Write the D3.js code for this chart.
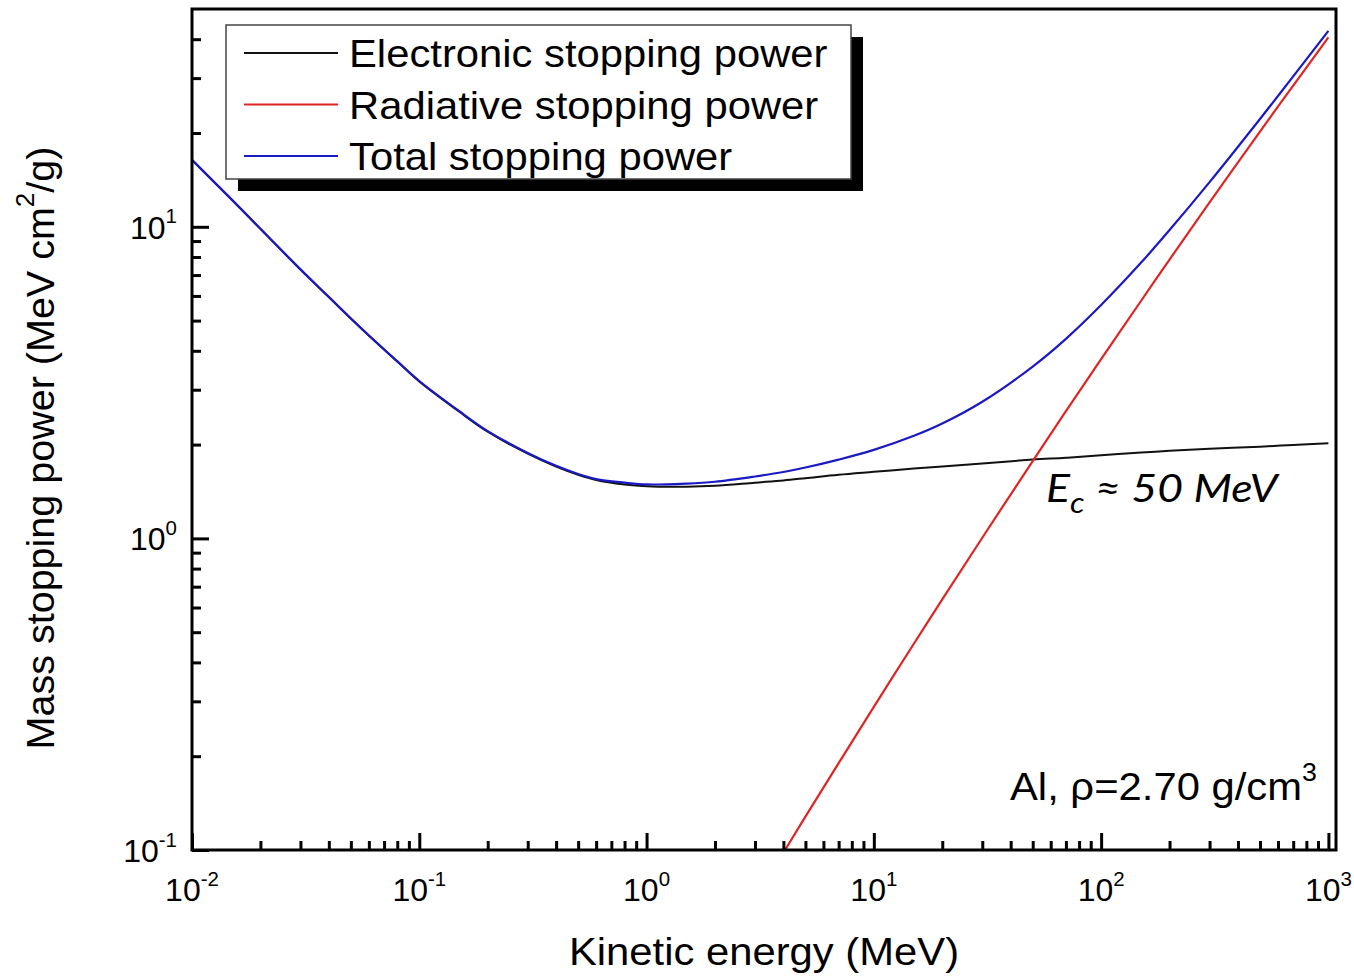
<!DOCTYPE html>
<html>
<head>
<meta charset="utf-8">
<script src="https://cdn.jsdelivr.net/npm/d3@7"></script>
<style>
  body { margin: 0; background: #fff; }
  svg { display: block; }
</style>
</head>
<body>
<svg id="chart" width="1354" height="977"></svg>
<script>
// Electron stopping power in aluminium (MeV cm^2/g) versus kinetic energy (MeV)
const energy = [0.01, 0.015, 0.02, 0.03, 0.04, 0.05, 0.06, 0.08, 0.1, 0.15, 0.2, 0.3, 0.4, 0.5, 0.6, 0.8,
                1, 1.5, 2, 3, 4, 5, 7, 10, 15, 20, 30, 50, 70, 100, 150, 200, 300, 500, 700, 1000];
const electronic = [16.4, 12.2, 9.85, 7.30, 5.95, 5.08, 4.48, 3.70, 3.19, 2.55, 2.20, 1.87, 1.70, 1.60, 1.54, 1.49,
                    1.47, 1.465, 1.475, 1.51, 1.535, 1.56, 1.60, 1.635, 1.675, 1.70, 1.74, 1.79, 1.815, 1.85, 1.885, 1.91, 1.94, 1.97, 1.995, 2.02];
const radiative = [0.0036, 0.0038, 0.0040, 0.0042, 0.0044, 0.0045, 0.0046, 0.0049, 0.0052, 0.0058, 0.0064, 0.0078, 0.0092, 0.011, 0.0125, 0.016,
                   0.020, 0.031, 0.043, 0.070, 0.098, 0.128, 0.190, 0.288, 0.459, 0.637, 1.005, 1.77, 2.56, 3.76, 5.79, 7.85, 11.97, 20.21, 28.39, 40.52];
const total = [16.40, 12.20, 9.85, 7.30, 5.95, 5.08, 4.48, 3.70, 3.20, 2.56, 2.21, 1.88, 1.71, 1.61, 1.55, 1.51,
               1.49, 1.50, 1.52, 1.58, 1.633, 1.688, 1.79, 1.923, 2.134, 2.337, 2.745, 3.56, 4.37, 5.61, 7.675, 9.76, 13.91, 22.18, 30.39, 42.54];

const seriesNames = ["Electronic stopping power", "Radiative stopping power", "Total stopping power"];
const seriesColors = ["#111111", "#e02424", "#1a1ac4"];

const xMajorTicks = [0.01, 0.1, 1, 10, 100, 1000];
const xTickExponents = ["-2", "-1", "0", "1", "2", "3"];
const yMajorTicks = [0.1, 1, 10];
const yTickExponents = ["-1", "0", "1"];

const FONT = "'Liberation Sans', Arial, Helvetica, sans-serif";
const SX = 1.058; // horizontal text stretch for the larger captions

const svg = d3.select("#chart");
const plot = { left: 192, right: 1336, top: 9, bottom: 850 };

const x = d3.scaleLog().domain([0.01, 1080]).range([plot.left, plot.right]);
const y = d3.scaleLog().domain([0.1, 50]).range([plot.bottom, plot.top]);

// minor tick positions: 2..9 within each decade
const xMinor = [];
[0.01, 0.1, 1, 10, 100].forEach(d => { for (let k = 2; k <= 9; k++) xMinor.push(d * k); });
const yMinor = [];
[0.1, 1].forEach(d => { for (let k = 2; k <= 9; k++) yMinor.push(d * k); });
[20, 30, 40].forEach(v => yMinor.push(v));

// text with optional super/subscript parts, stretched horizontally
function richText(parent, px, py, anchor, size, parts, style = {}) {
  const sx = style.sx || SX;
  const g = parent.append("g").attr("transform", `translate(${px},${py}) scale(${sx},1)`);
  const t = g.append("text")
    .attr("text-anchor", anchor)
    .attr("font-family", style.family || FONT)
    .attr("font-size", size)
    .attr("font-style", style.italic ? "italic" : "normal")
    .attr("fill", "#000");
  let shift = 0;
  parts.forEach(p => {
    const ts = t.append("tspan").text(p.text);
    let target = 0;
    if (p.sup) { ts.attr("font-size", size * 0.64); target = -size * 0.48; }
    if (p.sub) { ts.attr("font-size", size * 0.72); target = size * 0.28; }
    if (target !== shift) ts.attr("dy", target - shift);
    shift = target;
  });
  return g;
}

// clip region for the curves
svg.append("defs").append("clipPath").attr("id", "plotClip")
  .append("rect")
  .attr("x", plot.left).attr("y", plot.top)
  .attr("width", plot.right - plot.left).attr("height", plot.bottom - plot.top);

// curves
const line = d3.line().curve(d3.curveCatmullRom.alpha(0.5));
const curves = svg.append("g").attr("clip-path", "url(#plotClip)");
[electronic, radiative, total].forEach((vals, i) => {
  curves.append("path")
    .attr("d", line(energy.map((e, j) => [x(e), y(vals[j])])))
    .attr("fill", "none")
    .attr("stroke", seriesColors[i])
    .attr("stroke-width", i === 0 ? 2 : 2.2)
    .attr("stroke-linejoin", "round");
});

// ticks (pointing inward)
const xAxisMajor = d3.axisBottom(x).tickValues(xMajorTicks).tickSize(-17).tickFormat("");
const xAxisMinor = d3.axisBottom(x).tickValues(xMinor).tickSize(-9).tickFormat("");
const yAxisMajor = d3.axisLeft(y).tickValues(yMajorTicks).tickSize(-17).tickFormat("");
const yAxisMinor = d3.axisLeft(y).tickValues(yMinor).tickSize(-9).tickFormat("");

[[xAxisMajor, `translate(0,${plot.bottom})`], [xAxisMinor, `translate(0,${plot.bottom})`],
 [yAxisMajor, `translate(${plot.left},0)`], [yAxisMinor, `translate(${plot.left},0)`]].forEach(([ax, tr]) => {
  const g = svg.append("g").attr("transform", tr).call(ax);
  g.select(".domain").remove();
  g.selectAll(".tick line").attr("stroke", "#000").attr("stroke-width", 3);
});

// frame
svg.append("rect")
  .attr("x", plot.left).attr("y", plot.top)
  .attr("width", plot.right - plot.left).attr("height", plot.bottom - plot.top)
  .attr("fill", "none").attr("stroke", "#000").attr("stroke-width", 3);

// tick labels
xMajorTicks.forEach((v, i) => {
  richText(svg, x(v), 901, "middle", 32, [{ text: "10" }, { text: xTickExponents[i], sup: true }], { sx: 1 });
});
yMajorTicks.forEach((v, i) => {
  richText(svg, 177, y(v) + 12, "end", 32, [{ text: "10" }, { text: yTickExponents[i], sup: true }], { sx: 1 });
});

// axis titles
richText(svg, (plot.left + plot.right) / 2, 965, "middle", 39.5, [{ text: "Kinetic energy (MeV)" }]);
const yTitle = svg.append("g").attr("transform", `translate(54,448) rotate(-90)`);
(function () {
  const t = yTitle.append("text")
    .attr("text-anchor", "middle")
    .attr("font-family", FONT)
    .attr("font-size", 39.5)
    .attr("fill", "#000");
  t.append("tspan").text("Mass stopping power (MeV cm");
  t.append("tspan").text("2").attr("font-size", 26).attr("dy", -19.75);
  t.append("tspan").text("/g)").attr("dy", 19.75);
})();

// legend with drop shadow
const legend = svg.append("g");
legend.append("rect").attr("x", 238).attr("y", 37).attr("width", 625).attr("height", 154).attr("fill", "#000");
legend.append("rect").attr("x", 226).attr("y", 25).attr("width", 625).attr("height", 154)
  .attr("fill", "#fff").attr("stroke", "#444").attr("stroke-width", 1.5);
seriesNames.forEach((name, i) => {
  const ly = 53 + i * 51.5;
  legend.append("line").attr("x1", 244).attr("x2", 338).attr("y1", ly).attr("y2", ly)
    .attr("stroke", seriesColors[i]).attr("stroke-width", 2.2);
  richText(legend, 349, ly + 14, "start", 39.5, [{ text: name }]);
});

// annotations
richText(svg, 1010, 800, "start", 39.5, [{ text: "Al, \u03C1=2.70 g/cm" }, { text: "3", sup: true }]);
richText(svg, 1046, 502, "start", 39, [{ text: "E" }, { text: "c", sub: true }, { text: " \u2248 50 MeV" }],
  { family: "Lato, 'Open Sans', 'Noto Sans', sans-serif", italic: true, sx: 1.144 });
</script>
</body>
</html>
